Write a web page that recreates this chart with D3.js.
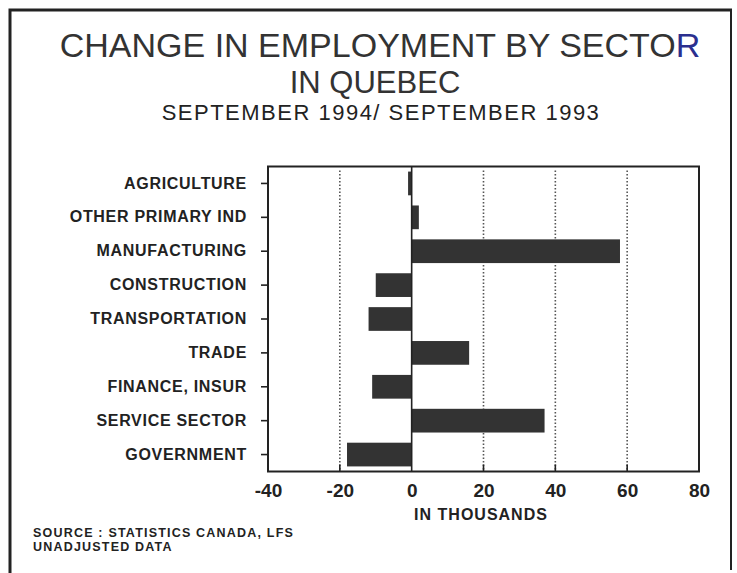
<!DOCTYPE html>
<html>
<head>
  <meta charset="utf-8">
  <script src="https://d3js.org/d3.v7.min.js"></script>
  <style>
    body { margin: 0; background: #fff; }
    text { fill: #222; }
  </style>
</head>
<body>
  <div id="chart"></div>
  <script type="text/javascript">
  // values, thousands of jobs
  var sectors = ["AGRICULTURE", "OTHER PRIMARY IND", "MANUFACTURING", "CONSTRUCTION",
                 "TRANSPORTATION", "TRADE", "FINANCE, INSUR", "SERVICE SECTOR", "GOVERNMENT"];
  var changes = [-1, 2, 58, -10, -12, 16, -11, 37, -18];
  var xTicks = [-40, -20, 0, 20, 40, 60, 80];
  var gridTicks = [-20, 20, 40, 60];

  var width = 737, height = 573;
  var font = "'Liberation Sans', Arial, sans-serif";
  var svg = d3.select("#chart").append("svg")
      .attr("width", width)
      .attr("height", height);

  svg.append("rect").attr("width", width).attr("height", height).attr("fill", "#fff");

  // page border (scan frame)
  svg.append("path")
      .attr("d", "M10,573 L10,10 L732,10")
      .attr("fill", "none").attr("stroke", "#222").attr("stroke-width", 3);
  svg.append("path")
      .attr("d", "M731,11 L731,570")
      .attr("fill", "none").attr("stroke", "#222").attr("stroke-width", 2);

  // titles
  var title = svg.append("text")
      .attr("x", 380).attr("y", 57)
      .attr("text-anchor", "middle")
      .style("font-family", font)
      .style("font-size", "34px")
      .style("fill", "#333");
  title.append("tspan").text("CHANGE IN EMPLOYMENT BY SECTO");
  title.append("tspan").style("fill", "#2b2f8f").text("R");

  svg.append("text")
      .attr("x", 375).attr("y", 93)
      .attr("text-anchor", "middle")
      .style("font-family", font)
      .style("font-size", "31px")
      .style("fill", "#333")
      .text("IN QUEBEC");

  svg.append("text")
      .attr("x", 381).attr("y", 120)
      .attr("text-anchor", "middle")
      .style("font-family", font)
      .style("font-size", "22px")
      .style("letter-spacing", "1.5px")
      .text("SEPTEMBER 1994/ SEPTEMBER 1993");

  // scales
  var x = d3.scaleLinear().domain([-40, 80]).range([268, 699]);
  var y = d3.scaleBand().domain(sectors).range([166.5, 471.5])
      .paddingInner(0.3).paddingOuter(0.15);

  var plotTop = 166.5, plotBottom = 471.5;

  // dotted grid
  svg.selectAll(".grid")
      .data(gridTicks)
    .enter().append("line")
      .attr("class", "grid")
      .attr("x1", function(d) { return x(d); })
      .attr("x2", function(d) { return x(d); })
      .attr("y1", plotTop + 4).attr("y2", plotBottom)
      .attr("stroke", "#555")
      .attr("stroke-width", 1.6)
      .attr("stroke-dasharray", "1.5,2");

  // small inner ticks on the bottom edge
  svg.selectAll(".itick")
      .data(gridTicks)
    .enter().append("line")
      .attr("class", "itick")
      .attr("x1", function(d) { return x(d); })
      .attr("x2", function(d) { return x(d); })
      .attr("y1", plotBottom - 7).attr("y2", plotBottom)
      .attr("stroke", "#222").attr("stroke-width", 1.6);

  // bars
  svg.selectAll(".bar")
      .data(changes)
    .enter().append("rect")
      .attr("class", "bar")
      .attr("x", function(d) { return x(Math.min(0, d)); })
      .attr("y", function(d, i) { return y(sectors[i]); })
      .attr("width", function(d) { return Math.abs(x(d) - x(0)); })
      .attr("height", y.bandwidth())
      .attr("fill", "#333");

  // zero line
  svg.append("line")
      .attr("x1", x(0)).attr("x2", x(0))
      .attr("y1", plotTop).attr("y2", plotBottom)
      .attr("stroke", "#222").attr("stroke-width", 1.6);

  // plot frame
  svg.append("rect")
      .attr("x", x(-40)).attr("y", plotTop)
      .attr("width", x(80) - x(-40)).attr("height", plotBottom - plotTop)
      .attr("fill", "none").attr("stroke", "#222").attr("stroke-width", 2);

  // y axis
  var yAxis = svg.append("g")
      .attr("transform", "translate(" + x(-40) + ",0)")
      .call(d3.axisLeft(y).tickSize(7).tickPadding(14));
  yAxis.select(".domain").remove();
  yAxis.selectAll("line").attr("stroke", "#222").attr("stroke-width", 1.6);
  yAxis.selectAll("text")
      .style("font-family", font)
      .style("font-size", "16px")
      .style("font-weight", "bold")
      .style("letter-spacing", "0.7px")
      .attr("fill", "#222");

  // x axis labels
  var xAxis = svg.append("g")
      .attr("transform", "translate(0," + plotBottom + ")")
      .call(d3.axisBottom(x).tickValues(xTicks).tickSize(0).tickPadding(12)
        .tickFormat(function(d) { return d < 0 ? "-" + Math.abs(d) : d; }));
  xAxis.select(".domain").remove();
  xAxis.selectAll("text")
      .style("font-family", font)
      .style("font-size", "19px")
      .style("font-weight", "bold")
      .attr("fill", "#222");

  svg.append("text")
      .attr("x", 481).attr("y", 520)
      .attr("text-anchor", "middle")
      .style("font-family", font)
      .style("font-size", "16px")
      .style("font-weight", "bold")
      .style("letter-spacing", "1px")
      .text("IN THOUSANDS");

  // source note
  var notes = ["SOURCE : STATISTICS CANADA, LFS", "UNADJUSTED DATA"];
  svg.selectAll(".note")
      .data(notes)
    .enter().append("text")
      .attr("class", "note")
      .attr("x", 33)
      .attr("y", function(d, i) { return 537 + i * 14; })
      .style("font-family", font)
      .style("font-size", "12.5px")
      .style("font-weight", "bold")
      .style("letter-spacing", "1.2px")
      .text(function(d) { return d; });
  </script>
</body>
</html>
